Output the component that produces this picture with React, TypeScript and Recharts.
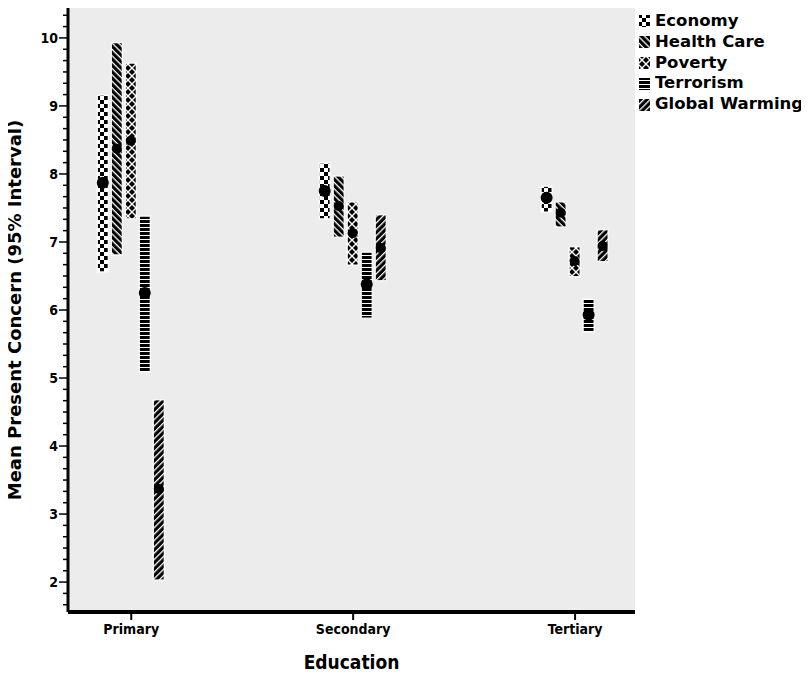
import React from "react";
import { ComposedChart, Bar, XAxis, YAxis, CartesianGrid, Legend } from "recharts";

// education levels on a numeric axis so the five bars sit around each point
const CATEGORIES = ["Primary", "Secondary", "Tertiary"];
const CAT_POS = [1, 2, 3];

// 95% interval (low / high) and mean
const economyLow = [6.56, 7.34, 7.44];
const economyHigh = [9.16, 8.16, 7.82];
const economyMean = [7.87, 7.75, 7.65];

const healthLow = [6.81, 7.07, 7.22];
const healthHigh = [9.93, 7.97, 7.59];
const healthMean = [8.37, 7.53, 7.43];

const povertyLow = [7.34, 6.66, 6.49];
const povertyHigh = [9.63, 7.59, 6.93];
const povertyMean = [8.49, 7.13, 6.72];

const terrorismLow = [5.09, 5.88, 5.68];
const terrorismHigh = [7.38, 6.85, 6.16];
const terrorismMean = [6.25, 6.38, 5.93];

const warmingLow = [2.03, 6.43, 6.71];
const warmingHigh = [4.68, 7.4, 7.18];
const warmingMean = [3.37, 6.91, 6.94];

const Y_DOMAIN: [number, number] = [1.56, 10.44];
const X_DOMAIN: [number, number] = [0.715, 3.27];

// minor ticks every 1/6
const Y_TICKS: number[] = [];
for (let i = 10; i <= 62; i++) Y_TICKS.push(i / 6);

const SERIES = [
  { key: "economy", label: "Economy", low: economyLow, high: economyHigh, mean: economyMean, pat: "pEconomy", r: 6 },
  { key: "health", label: "Health Care", low: healthLow, high: healthHigh, mean: healthMean, pat: "pHealth", r: 5 },
  { key: "poverty", label: "Poverty", low: povertyLow, high: povertyHigh, mean: povertyMean, pat: "pPoverty", r: 5 },
  { key: "terrorism", label: "Terrorism", low: terrorismLow, high: terrorismHigh, mean: terrorismMean, pat: "pTerrorism", r: 6 },
  { key: "warming", label: "Global Warming", low: warmingLow, high: warmingHigh, mean: warmingMean, pat: "pWarming", r: 5 },
];

const data = CAT_POS.map((x, i) => {
  const row: Record<string, any> = { x };
  SERIES.forEach((s) => {
    row[s.key] = [s.low[i], s.high[i]];
    row[s.key + "Mean"] = s.mean[i];
  });
  return row;
});

const AXIS_FONT = "'DejaVu Sans Condensed', 'Liberation Sans Narrow', 'DejaVu Sans', sans-serif";
const LABEL_FONT = "'DejaVu Sans', sans-serif";

const makeShape = (s: (typeof SERIES)[number]) => (props: any) => {
  const { x, y, width, height, payload } = props;
  if (x == null || y == null) return null;
  const [lo, hi] = payload[s.key];
  const m = payload[s.key + "Mean"];
  const top = height >= 0 ? y : y + height;
  const h = Math.abs(height);
  const cy = top + (h * (hi - m)) / (hi - lo);
  return (
    <g>
      <rect x={x} y={top} width={width} height={h} fill={`url(#${s.pat})`} stroke="#fff" strokeWidth={1.2} />
      <circle cx={x + width / 2} cy={cy} r={s.r} fill="#000" />
    </g>
  );
};

const YTick = (props: any) => {
  const { x, y, payload } = props;
  const v = payload.value;
  if (Math.abs(v - Math.round(v)) > 1e-6) return null;
  return (
    <g>
      <line x1={x - 4} x2={x} y1={y} y2={y} stroke="#000" strokeWidth={1.5} />
      <text x={x - 5} y={y} dy={5} textAnchor="end" fontSize={14} fontWeight="bold" fontFamily={AXIS_FONT} fill="#000">
        {Math.round(v)}
      </text>
    </g>
  );
};

const YLabel = (props: any) => {
  const vb = props.viewBox || { x: 0, y: 8, width: 68, height: 604 };
  const cx = vb.x + 21;
  const cy = vb.y + vb.height / 2;
  return (
    <text
      x={cx}
      y={cy}
      transform={`rotate(-90 ${cx} ${cy})`}
      textAnchor="middle"
      fontSize={18}
      fontWeight="bold"
      fontFamily={LABEL_FONT}
      fill="#000"
    >
      Mean Present Concern (95% Interval)
    </text>
  );
};

const XLabel = (props: any) => {
  const vb = props.viewBox || { x: 68, y: 612, width: 567, height: 63 };
  return (
    <text x={vb.x + vb.width / 2} y={vb.y + 57} textAnchor="middle" fontSize={19} fontWeight="bold" fontFamily={AXIS_FONT} fill="#000">
      Education
    </text>
  );
};

const renderLegend = () => (
  <div style={{ fontFamily: LABEL_FONT, fontWeight: "bold", fontSize: 16.5, lineHeight: "20.8px", color: "#000" }}>
    {SERIES.map((s) => (
      <div key={s.key} style={{ display: "flex", alignItems: "center", whiteSpace: "nowrap" }}>
        <svg width={13} height={14} style={{ marginRight: 4, flexShrink: 0 }}>
          <rect x={0.5} y={0.5} width={12} height={13} fill={`url(#${s.pat})`} stroke="#fff" />
        </svg>
        {s.label}
      </div>
    ))}
  </div>
);

export default function App() {
  return (
    <div style={{ marginLeft: -8, marginTop: -8, background: "#fff" }}>
      <ComposedChart
        width={809}
        height={675}
        data={data}
        margin={{ top: 8, right: 174, bottom: 0, left: 0 }}
        barSize={11}
        barGap={3}
      >
        <defs>
          <pattern id="pEconomy" width={8} height={8} patternUnits="userSpaceOnUse">
            <rect width={8} height={8} fill="#fff" />
            <rect width={4} height={4} fill="#000" />
            <rect x={4} y={4} width={4} height={4} fill="#000" />
          </pattern>
          <pattern id="pHealth" width={4.5} height={4.5} patternUnits="userSpaceOnUse" patternTransform="rotate(45)">
            <rect width={4.5} height={4.5} fill="#000" />
            <rect width={4.5} height={1.3} fill="#fff" />
          </pattern>
          <pattern id="pPoverty" width={8} height={8} patternUnits="userSpaceOnUse">
            <rect width={8} height={8} fill="#000" />
            <path d="M0,0L8,8M8,0L0,8" stroke="#fff" strokeWidth={1.4} />
          </pattern>
          <pattern id="pTerrorism" width={4} height={4} patternUnits="userSpaceOnUse">
            <rect width={4} height={4} fill="#000" />
            <rect y={3} width={4} height={1} fill="#fff" />
          </pattern>
          <pattern id="pWarming" width={4.5} height={4.5} patternUnits="userSpaceOnUse" patternTransform="rotate(-45)">
            <rect width={4.5} height={4.5} fill="#000" />
            <rect width={4.5} height={1.3} fill="#fff" />
          </pattern>
        </defs>
        <CartesianGrid fill="#ececec" fillOpacity={1} horizontal={false} vertical={false} />
        <XAxis
          dataKey="x"
          type="number"
          domain={X_DOMAIN}
          allowDataOverflow
          ticks={CAT_POS}
          interval={0}
          tickFormatter={(v: number) => CATEGORIES[Math.round(v) - 1]}
          height={63}
          tickSize={8}
          tickMargin={4}
          axisLine={{ stroke: "#000", strokeWidth: 4 }}
          tickLine={{ stroke: "#000", strokeWidth: 2 }}
          tick={{ fill: "#000", fontSize: 14, fontWeight: "bold", fontFamily: AXIS_FONT }}
          label={<XLabel />}
        />
        <XAxis
          xAxisId="top"
          orientation="top"
          dataKey="x"
          type="number"
          domain={X_DOMAIN}
          allowDataOverflow
          height={0}
          tick={false}
          tickLine={false}
          axisLine={{ stroke: "#000", strokeWidth: 3 }}
        />
        <YAxis
          type="number"
          domain={Y_DOMAIN}
          allowDataOverflow
          ticks={Y_TICKS}
          interval={0}
          width={68}
          tickSize={5}
          tickMargin={0}
          axisLine={{ stroke: "#000", strokeWidth: 3 }}
          tickLine={{ stroke: "#000", strokeWidth: 1.5 }}
          tick={<YTick />}
          label={<YLabel />}
        />
        <YAxis
          yAxisId="right"
          orientation="right"
          type="number"
          domain={[0, 1]}
          width={0}
          tick={false}
          tickLine={false}
          axisLine={{ stroke: "#000", strokeWidth: 4 }}
        />
        {SERIES.map((s) => (
          <Bar key={s.key} dataKey={s.key} name={s.label} shape={makeShape(s)} isAnimationActive={false} />
        ))}
        <Legend
          content={renderLegend}
          layout="vertical"
          align="center"
          verticalAlign="middle"
          wrapperStyle={{ left: 638, top: 11, width: 171 }}
        />
      </ComposedChart>
    </div>
  );
}
